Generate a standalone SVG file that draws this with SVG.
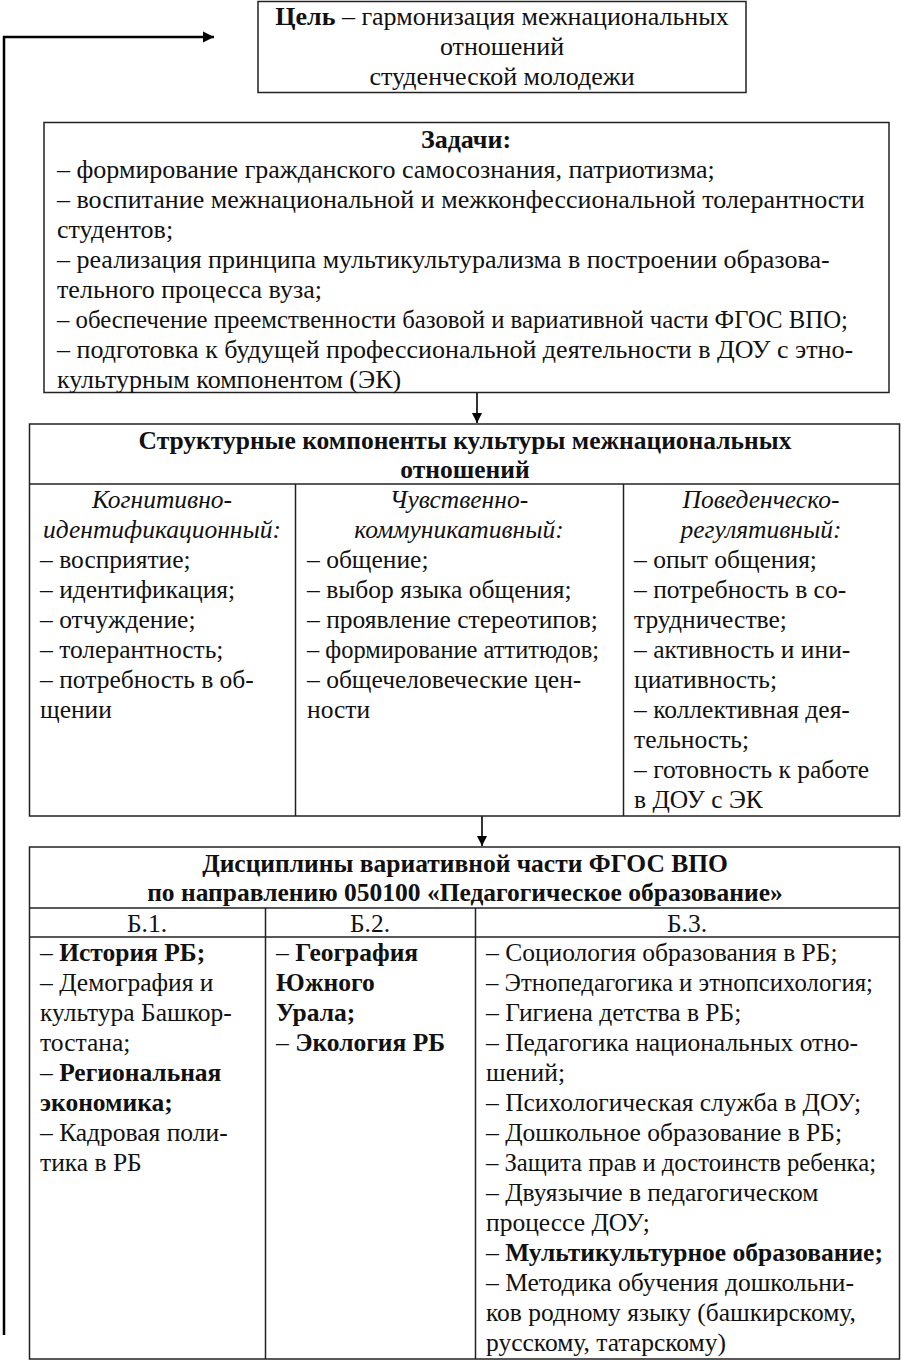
<svg xmlns="http://www.w3.org/2000/svg" width="902" height="1360" viewBox="0 0 902 1360">
<style>
.t{font-family:"Liberation Serif","Times New Roman",serif;font-size:25.5px;fill:#111}
.L{font-size:26px}
.b{font-weight:bold}
.i{font-style:italic}
.c{text-anchor:middle}
.box{fill:#fff;stroke:#222;stroke-width:1.5}
.ln{stroke:#222;stroke-width:1.5;fill:none}
.con{stroke:#000;fill:none}
</style>
<defs>
<marker id="ah" viewBox="0 0 10 10" refX="10" refY="5" markerWidth="11" markerHeight="12" markerUnits="userSpaceOnUse" orient="auto"><path d="M0,0 L10,5 L0,10 Z" fill="#000"/></marker>
<marker id="ahs" viewBox="0 0 10 10" refX="10" refY="5" markerWidth="10" markerHeight="11" markerUnits="userSpaceOnUse" orient="auto"><path d="M0,0 L10,5 L0,10 Z" fill="#000"/></marker>
</defs>
<rect width="902" height="1360" fill="#fff"/>

<g id="connectors">
<path class="con" d="M4,1335 V37 H214" stroke-width="2.5" marker-end="url(#ah)"/>
<path class="con" d="M477,393 V423" stroke-width="1.6" marker-end="url(#ahs)"/>
<path class="con" d="M482,816 V846" stroke-width="1.6" marker-end="url(#ahs)"/>
</g>

<g id="goal">
<rect class="box" x="258" y="1.5" width="488" height="91"/>
<text class="t L c" x="502" y="25"><tspan class="b">Цель</tspan> – гармонизация межнациональных</text>
<text class="t L c" x="502" y="55">отношений</text>
<text class="t L c" x="502" y="85">студенческой молодежи</text>
</g>

<g id="tasks">
<rect class="box" x="44" y="122.5" width="845" height="270"/>
<text class="t L c b" x="466" y="148">Задачи:</text>
<text class="t L" x="57" y="178">– формирование гражданского самосознания, патриотизма;</text>
<text class="t L" x="57" y="208">– воспитание межнациональной и межконфессиональной толерантности</text>
<text class="t L" x="57" y="238">студентов;</text>
<text class="t L" x="57" y="268">– реализация принципа мультикультурализма в построении образова-</text>
<text class="t L" x="57" y="298">тельного процесса вуза;</text>
<text class="t L" x="57" y="328" textLength="791" lengthAdjust="spacingAndGlyphs">– обеспечение преемственности базовой и вариативной части ФГОС ВПО;</text>
<text class="t L" x="57" y="358">– подготовка к будущей профессиональной деятельности в ДОУ с этно-</text>
<text class="t L" x="57" y="388">культурным компонентом (ЭК)</text>
</g>

<g id="structure">
<rect class="box" x="29.5" y="424" width="870" height="392"/>
<line class="ln" x1="29.5" y1="484" x2="899.5" y2="484"/>
<line class="ln" x1="295.5" y1="484" x2="295.5" y2="816"/>
<line class="ln" x1="623.5" y1="484" x2="623.5" y2="816"/>
<text class="t c b" x="465" y="449">Структурные компоненты культуры межнациональных</text>
<text class="t c b" x="465" y="478">отношений</text>
<g id="col-cognitive">
<text class="t c i" x="162" y="508">Когнитивно-</text>
<text class="t c i" x="162" y="538">идентификационный:</text>
<text class="t" x="40" y="568">– восприятие;</text>
<text class="t" x="40" y="598">– идентификация;</text>
<text class="t" x="40" y="628">– отчуждение;</text>
<text class="t" x="40" y="658">– толерантность;</text>
<text class="t" x="40" y="688">– потребность в об-</text>
<text class="t" x="40" y="718">щении</text>
</g>
<g id="col-emotional">
<text class="t c i" x="459" y="508">Чувственно-</text>
<text class="t c i" x="459" y="538">коммуникативный:</text>
<text class="t" x="307" y="568">– общение;</text>
<text class="t" x="307" y="598">– выбор языка общения;</text>
<text class="t" x="307" y="628">– проявление стереотипов;</text>
<text class="t" x="307" y="658" textLength="292" lengthAdjust="spacingAndGlyphs">– формирование аттитюдов;</text>
<text class="t" x="307" y="688">– общечеловеческие цен-</text>
<text class="t" x="307" y="718">ности</text>
</g>
<g id="col-behavioral">
<text class="t c i" x="761" y="508">Поведенческо-</text>
<text class="t c i" x="761" y="538">регулятивный:</text>
<text class="t" x="634" y="568">– опыт общения;</text>
<text class="t" x="634" y="598">– потребность в со-</text>
<text class="t" x="634" y="628">трудничестве;</text>
<text class="t" x="634" y="658">– активность и ини-</text>
<text class="t" x="634" y="688">циативность;</text>
<text class="t" x="634" y="718">– коллективная дея-</text>
<text class="t" x="634" y="748">тельность;</text>
<text class="t" x="634" y="778">– готовность к работе</text>
<text class="t" x="634" y="808">в ДОУ с ЭК</text>
</g>
</g>

<g id="disciplines">
<rect class="box" x="29.5" y="847" width="870" height="512"/>
<line class="ln" x1="29.5" y1="908" x2="899.5" y2="908"/>
<line class="ln" x1="29.5" y1="937" x2="899.5" y2="937"/>
<line class="ln" x1="265.5" y1="908" x2="265.5" y2="1359"/>
<line class="ln" x1="475.5" y1="908" x2="475.5" y2="1359"/>
<text class="t c b" x="465" y="872">Дисциплины вариативной части ФГОС ВПО</text>
<text class="t c b" x="465" y="901">по направлению 050100 «Педагогическое образование»</text>
<text class="t c" x="147" y="932">Б.1.</text>
<text class="t c" x="370" y="932">Б.2.</text>
<text class="t c" x="687" y="932">Б.3.</text>
<g id="b1">
<text class="t" x="40" y="961">– <tspan class="b">История РБ;</tspan></text>
<text class="t" x="40" y="991">– Демография и</text>
<text class="t" x="40" y="1021">культура Башкор-</text>
<text class="t" x="40" y="1051">тостана;</text>
<text class="t" x="40" y="1081">– <tspan class="b">Региональная</tspan></text>
<text class="t b" x="40" y="1111">экономика;</text>
<text class="t" x="40" y="1141">– Кадровая поли-</text>
<text class="t" x="40" y="1171">тика в РБ</text>
</g>
<g id="b2">
<text class="t" x="276" y="961">– <tspan class="b">География</tspan></text>
<text class="t b" x="276" y="991">Южного</text>
<text class="t b" x="276" y="1021">Урала;</text>
<text class="t" x="276" y="1051">– <tspan class="b">Экология РБ</tspan></text>
</g>
<g id="b3">
<text class="t" x="486" y="961">– Социология образования в РБ;</text>
<text class="t" x="486" y="991" textLength="387" lengthAdjust="spacingAndGlyphs">– Этнопедагогика и этнопсихология;</text>
<text class="t" x="486" y="1021">– Гигиена детства в РБ;</text>
<text class="t" x="486" y="1051">– Педагогика национальных отно-</text>
<text class="t" x="486" y="1081">шений;</text>
<text class="t" x="486" y="1111">– Психологическая служба в ДОУ;</text>
<text class="t" x="486" y="1141">– Дошкольное образование в РБ;</text>
<text class="t" x="486" y="1171" textLength="390" lengthAdjust="spacingAndGlyphs">– Защита прав и достоинств ребенка;</text>
<text class="t" x="486" y="1201">– Двуязычие в педагогическом</text>
<text class="t" x="486" y="1231">процессе ДОУ;</text>
<text class="t" x="486" y="1261">– <tspan class="b">Мультикультурное образование;</tspan></text>
<text class="t" x="486" y="1291">– Методика обучения дошкольни-</text>
<text class="t" x="486" y="1321">ков родному языку (башкирскому,</text>
<text class="t" x="486" y="1351">русскому, татарскому)</text>
</g>
</g>
</svg>
